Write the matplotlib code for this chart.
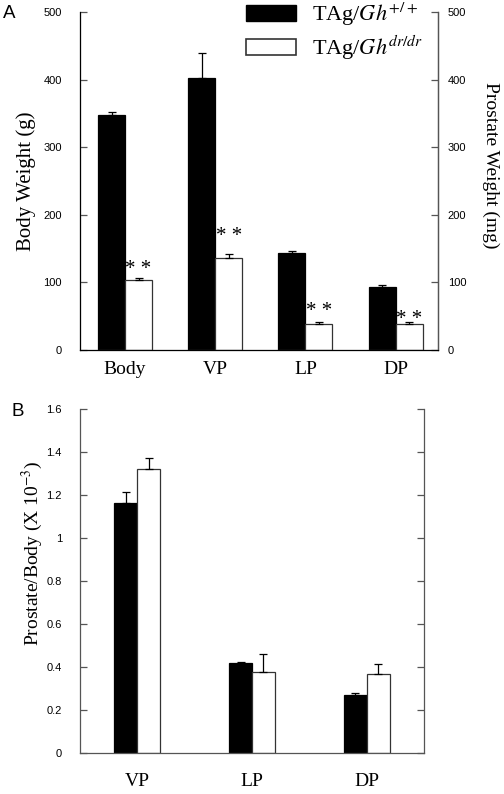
import matplotlib.pyplot as plt
import numpy as np

plt.rcParams['font.family'] = 'Liberation Serif'
plt.rcParams['mathtext.fontset'] = 'stix'

# panel A: body weight (g) and prostate lobe weights (mg)
cats_a = ['Body', 'VP', 'LP', 'DP']
wt_a = [347, 403, 144, 93]
wt_err_a = [5, 37, 3, 2.5]
dw_a = [103, 136, 38, 38]
dw_err_a = [4, 5.5, 3, 3.5]
star_y_a = [128, 176, 66, 54]

# panel B: prostate/body ratio (x 10^-3)
cats_b = ['VP', 'LP', 'DP']
wt_b = [1.162, 0.418, 0.271]
wt_err_b = [0.052, 0.004, 0.008]
dw_b = [1.321, 0.376, 0.369]
dw_err_b = [0.053, 0.085, 0.046]

lbl_wt = r'TAg/$\mathit{Gh}^{+/+}$'
lbl_dw = r'TAg/$\mathit{Gh}^{dr/dr}$'

spine_c = '#555555'
tick_font = dict(family='Liberation Sans', size=8)

fig = plt.figure(figsize=(5.04, 7.94), dpi=100)
ax1 = fig.add_axes([0.1587, 0.5592, 0.7103, 0.4257])
ax2 = fig.add_axes([0.1587, 0.0513, 0.6825, 0.4336])


def style(ax):
    ax.spines['top'].set_visible(False)
    for s in ['left', 'right', 'bottom']:
        ax.spines[s].set_color(spine_c)
        ax.spines[s].set_linewidth(0.9)
    ax.tick_params(axis='y', direction='in', length=5, width=0.9, color=spine_c,
                   left=True, right=True, pad=13)
    ax.tick_params(axis='x', length=0, pad=8, labelsize=14)
    for t in ax.get_yticklabels():
        t.set_fontproperties(tick_font)


def draw_bars(ax, x, w, a, ea, b, eb):
    ekw = dict(elinewidth=0.9, capthick=0.9, ecolor='black')
    ax.bar(x - w / 2, a, w, color='black', edgecolor='black', linewidth=0.9,
           yerr=[np.zeros(len(a)), ea], capsize=3, error_kw=ekw)
    ax.bar(x + w / 2, b, w, color='white', edgecolor='#333333', linewidth=0.9,
           yerr=[np.zeros(len(b)), eb], capsize=3, error_kw=ekw)


# ---- panel A
xa = np.arange(len(cats_a))
draw_bars(ax1, xa, 0.3, wt_a, wt_err_a, dw_a, dw_err_a)
ax1.set_xlim(-0.5, 3.47)
ax1.set_ylim(0, 500)
ax1.set_yticks([0, 100, 200, 300, 400, 500])
ax1.set_xticks(xa)
ax1.set_xticklabels(cats_a)
style(ax1)
ax1.set_ylabel('Body Weight (g)', fontsize=15, va='center')
ax1.yaxis.set_label_coords(-0.151, 0.5)

for xi, yi in zip(xa, star_y_a):
    ax1.annotate('* *', (xi + 0.15, yi), xytext=(0, -7.5), textcoords='offset points',
                 ha='center', va='baseline', fontsize=15)

axr = ax1.twinx()
axr.set_ylim(0, 500)
axr.set_yticks([0, 100, 200, 300, 400, 500])
axr.spines['top'].set_visible(False)
axr.spines['right'].set_color(spine_c)
axr.spines['right'].set_linewidth(0.9)
axr.tick_params(axis='y', direction='in', length=5, width=0.9, color=spine_c, pad=7)
for t in axr.get_yticklabels():
    t.set_fontproperties(tick_font)
axr.set_ylabel('Prostate Weight (mg)', fontsize=14, rotation=-90, va='center')
axr.yaxis.set_label_coords(1.148, 0.547)
ax1.tick_params(axis='y', right=False)

h1 = plt.Rectangle((0, 0), 1, 1, facecolor='black', edgecolor='black')
h2 = plt.Rectangle((0, 0), 1, 1, facecolor='white', edgecolor='#333333', linewidth=1.2)
fig.legend([h1, h2], [lbl_wt, lbl_dw], loc='upper left',
           bbox_to_anchor=(0.458, 1.019), frameon=False, fontsize=16,
           handlelength=2.25, handleheight=0.72, labelspacing=0.25,
           handletextpad=0.7, borderpad=0.2)

# ---- panel B
xb = np.arange(len(cats_b))
draw_bars(ax2, xb, 0.2, wt_b, wt_err_b, dw_b, dw_err_b)
ax2.set_xlim(-0.5, 2.5)
ax2.set_ylim(0, 1.6)
ax2.set_yticks([0, 0.2, 0.4, 0.6, 0.8, 1.0, 1.2, 1.4, 1.6])
ax2.set_yticklabels(['0', '0.2', '0.4', '0.6', '0.8', '1', '1.2', '1.4', '1.6'])
ax2.set_xticks(xb)
ax2.set_xticklabels(cats_b)
style(ax2)
ax2.tick_params(axis='y', labelright=False)
ax2.tick_params(axis='x', pad=14)
ax2.set_ylabel(r'Prostate/Body (X 10$^{-3}$)', fontsize=14, va='center')
ax2.yaxis.set_label_coords(-0.137, 0.58)

fig.text(0.005, 0.983, 'A', fontsize=13.5, family='Liberation Sans', va='center')
fig.text(0.023, 0.4817, 'B', fontsize=13.5, family='Liberation Sans', va='center')

fig.savefig('out.png', dpi=100)
